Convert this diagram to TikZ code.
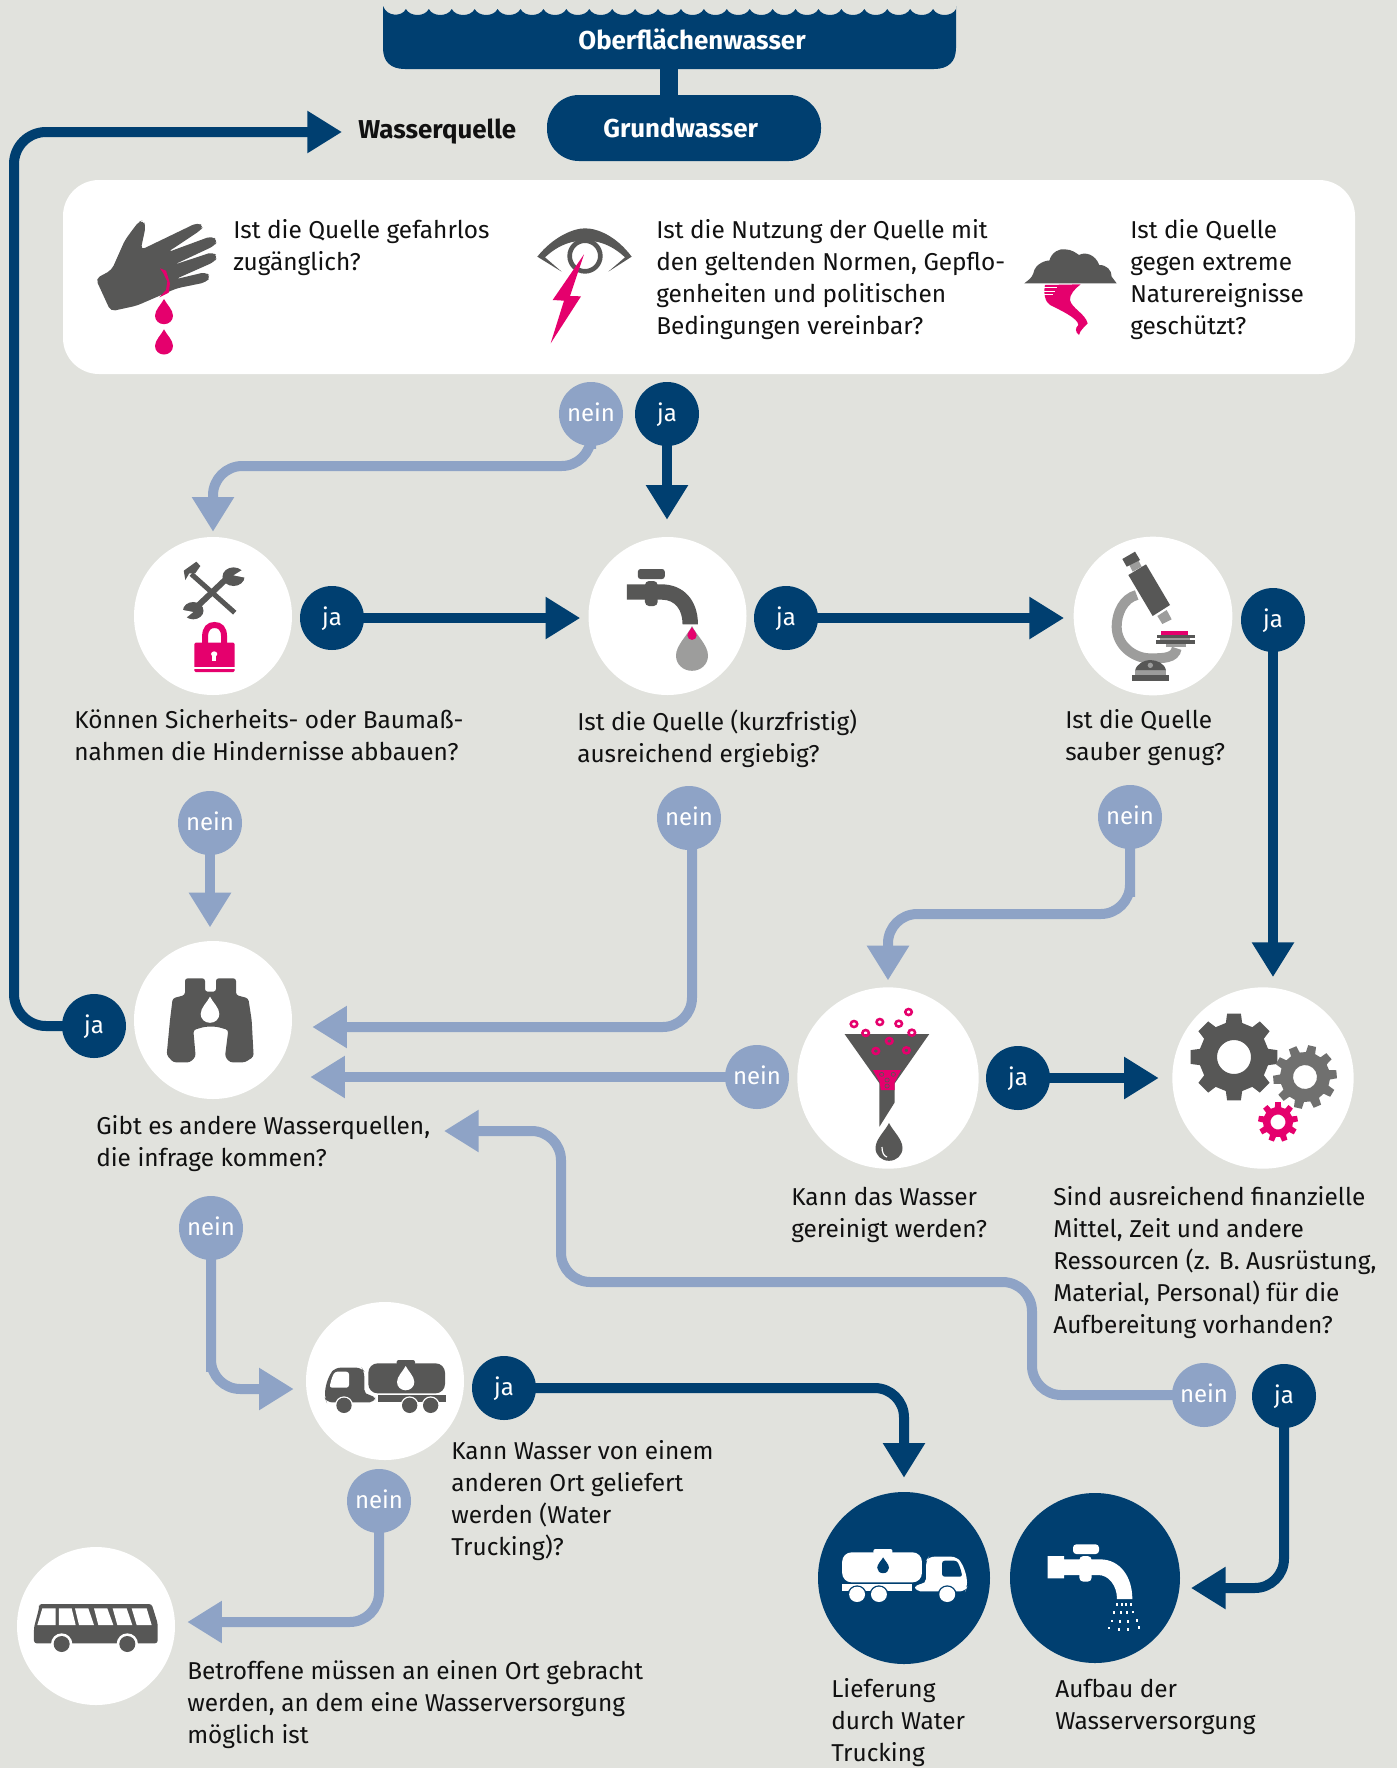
\documentclass[tikz,border=0pt]{standalone}
\usepackage{fontspec}
\setmainfont{Fira Sans}
\usetikzlibrary{arrows.meta}
\definecolor{bgc}{HTML}{E1E2DD}
\definecolor{navy}{HTML}{003F70}
\definecolor{lblue}{HTML}{8EA3C6}
\definecolor{pink}{HTML}{E5006D}
\definecolor{dgrey}{HTML}{575756}
\definecolor{mgrey}{HTML}{9D9D9C}
\definecolor{ink}{HTML}{111111}
\pgfdeclarelayer{bgl}
\pgfdeclarelayer{lines}
\pgfsetlayers{bgl,lines,main}
\tikzset{
  conn/.style={line width=7.5pt,rounded corners=22pt,-{Triangle[length=26pt,width=30pt]}},
  dk/.style={conn,draw=navy},
  lt/.style={conn,draw=lblue},
  jaa/.style={circle,fill=navy,text=white,minimum size=48pt,inner sep=0pt,text height=13pt,text depth=2pt,font=\fontsize{18}{20}\selectfont},
  nei/.style={circle,fill=lblue,text=white,minimum size=48pt,inner sep=0pt,text height=13pt,text depth=2pt,font=\fontsize{18}{20}\selectfont},
  wcirc/.style={circle,fill=white,inner sep=0pt},
  ncirc/.style={circle,fill=navy,inner sep=0pt},
  txt/.style={anchor=north west,inner sep=0pt,align=left,text=ink,font=\fontsize{18.3}{24}\selectfont,execute at begin node={\strut}},
  head/.style={inner sep=0pt,font=\bfseries\fontsize{19.4}{21}\selectfont}
}
\newcommand\waterdrop[4]{\begin{scope}[shift={(#1,#2)},scale=#3]
\fill[#4] (0,0) .. controls (.3,.6) and (1,1.2) .. (1,1.85) .. controls (1,2.4) and (.55,2.8) .. (0,2.8) .. controls (-.55,2.8) and (-1,2.4) .. (-1,1.85) .. controls (-1,1.2) and (-.3,.6) .. (0,0) -- cycle;
\end{scope}}
\newcommand\gearicon[8]{\begin{scope}[shift={(#1,#2)},rotate=#7]
\fill[#8,even odd rule] ({-.3*360/#6}:#4) \foreach \k in {0,...,\numexpr#6-1\relax}{ -- ({(\k-.3)*360/#6}:#4) -- ({(\k-.2)*360/#6}:#3) -- ({(\k+.2)*360/#6}:#3) -- ({(\k+.3)*360/#6}:#4)} -- cycle (0,0) circle[radius=#5];
\end{scope}}
\newcommand\truckicon[4]{%
\fill[#1,rounded corners=4pt] (105,203) -- (185,203) -- (193,215) -- (193,285) -- (225,285) -- (225,307) -- (80,307) -- (75,295) -- (75,265) -- (88,225) -- cycle;
\fill[#2,rounded corners=2pt] (104,215) -- (147,215) -- (147,263) -- (88,263) -- (95,235) -- cycle;
\fill[#1,rounded corners=7pt] (205,190) rectangle (435,280);
\fill[#1,rounded corners=1.5pt] (290,180) rectangle (345,195);
\fill[#1] (235,285) rectangle (437,307);
\foreach \wx in {132,329,392}{\fill[#2] (\wx,316) circle[radius=27];\fill[#1] (\wx,316) circle[radius=23];}
\waterdrop{317}{#4}{#3}{#2}}
\begin{document}
\begin{tikzpicture}[x=.75pt,y=-.75pt]
\useasboundingbox (0,0) rectangle (1397,1768);
\begin{pgfonlayer}{bgl}
\fill[bgc] (0,0) rectangle (1397,1768);
\fill[white,rounded corners=27pt] (63,180) rectangle (1355,374);
\fill[navy] (383,6) \foreach \i in {0,...,24}{ .. controls ({383+22.92*\i+4},17) and ({383+22.92*\i+19},17) .. ({383+22.92*(\i+1)},9)} -- (956,6) -- (956,48) .. controls (956,62) and (948,69) .. (934,69) -- (405,69) .. controls (391,69) and (383,62) .. (383,48) -- cycle;
\end{pgfonlayer}

% ---- nodes
\node[minimum width=430pt,minimum height=46pt,inner sep=0pt] (ow) at (668.5,38) {};
\node[head,text=white] (owt) at (692,39) {Oberflächenwasser};
\node[head,fill=navy,text=white,rounded corners=24pt,minimum width=205.5pt,minimum height=49.5pt,text width=205.5pt,align=center] (gw) at (684,128) {\hspace*{-5pt}Grundwasser};
\node[head,text=ink,anchor=west] (wq) at (358,132) {Wasserquelle};

\node[txt] (q1) at (233,219.5) {Ist die Quelle gefahrlos\\zugänglich?};
\node[txt] (q2) at (656,219.5) {Ist die Nutzung der Quelle mit\\den geltenden Normen, Gepflo-\\genheiten und politischen\\Bedingungen vereinbar?};
\node[txt] (q3) at (1130,219.5) {Ist die Quelle\\gegen extreme\\Naturereignisse\\geschützt?};

\node[nei] (n1) at (591,414) {nein};
\node[jaa] (j1) at (667,414) {ja};
\node[wcirc,minimum size=118.5pt] (safe) at (213,616) {};
\node[wcirc,minimum size=118.5pt] (tap) at (667.5,616) {};
\node[wcirc,minimum size=119pt] (micro) at (1153,616) {};
\node[jaa] (j2) at (332,618) {ja};
\node[jaa] (j3) at (786,618) {ja};
\node[jaa] (j4) at (1273,620) {ja};
\node[txt] (t1) at (74,709.5) {Können Sicherheits- oder Baumaß-\\nahmen die Hindernisse abbauen?};
\node[txt] (t2) at (577,709.5) {Ist die Quelle (kurzfristig)\\ausreichend ergiebig?};
\node[txt] (t3) at (1065,709.5) {Ist die Quelle\\sauber genug?};
\node[nei] (n2) at (210,823) {nein};
\node[nei] (n3) at (689,818) {nein};
\node[nei] (n4) at (1130,817) {nein};
\node[wcirc,minimum size=118.5pt] (bino) at (213,1020) {};
\node[jaa] (j5) at (94,1026) {ja};
\node[wcirc,minimum size=136pt] (filt) at (888,1078) {};
\node[wcirc,minimum size=136pt] (gear) at (1263,1078) {};
\node[nei] (n5) at (757,1077) {nein};
\node[jaa] (j6) at (1018,1078) {ja};
\node[txt] (t4) at (96,1115.5) {Gibt es andere Wasserquellen,\\die infrage kommen?};
\node[txt] (t5) at (791,1186.5) {Kann das Wasser\\gereinigt werden?};
\node[txt] (t6) at (1053,1186.5) {Sind ausreichend finanzielle\\Mittel, Zeit und andere\\Ressourcen (z. B. Ausrüstung,\\Material, Personal) für die\\Aufbereitung vorhanden?};
\node[nei] (n6) at (211,1228) {nein};
\node[wcirc,minimum size=118.5pt] (truck) at (385,1381) {};
\node[jaa] (j7) at (504,1388) {ja};
\node[nei] (n7) at (1204,1395) {nein};
\node[jaa] (j8) at (1284,1396) {ja};
\node[txt] (t7) at (451,1440.5) {Kann Wasser von einem\\anderen Ort geliefert\\werden (Water\\Trucking)?};
\node[nei] (n8) at (379,1501) {nein};
\node[wcirc,minimum size=118.5pt] (bus) at (96,1626) {};
\node[ncirc,minimum size=129pt] (nt) at (904,1578) {};
\node[ncirc,minimum size=127.5pt] (nw) at (1095,1578) {};
\node[txt] (t8) at (187,1660.5) {Betroffene müssen an einen Ort gebracht\\werden, an dem eine Wasserversorgung\\möglich ist};
\node[txt] (t9) at (831,1678.5) {Lieferung\\durch Water\\Trucking};
\node[txt] (t10) at (1055,1678.5) {Aufbau der\\Wasserversorgung};

% ---- free corner points
\coordinate (cq) at (14,600);
\coordinate (c1) at (1032,1282);
\coordinate (c2) at (561,1131);
\coordinate (e2) at (444,1131);
\coordinate (c3) at (1130,914);
\coordinate (c4) at (211,1389);
\coordinate (c5) at (379,1622);
\coordinate (c6) at (591,466);
\coordinate (c7) at (692,1027);
\coordinate (c9) at (1284,1588);

\begin{pgfonlayer}{lines}
\draw[draw=navy,line width=13.5pt] (ow.south) -- (ow.south |- gw.north);
\draw[dk,rounded corners=24pt,shorten >=12pt] (j5.center) -| (cq) |- (wq.west);
\draw[lt,shorten >=3.75pt] (n1.center) |- (c6) -| (safe.north);
\draw[dk,shorten >=12.75pt] (j1.center) -- (j1.center |- tap.north);
\draw[dk,shorten >=6pt] (j2.center) -- (j2.center -| tap.west);
\draw[dk,shorten >=7pt] (j3.center) -- (j3.center -| micro.west);
\draw[dk,shorten >=7.5pt] (j4.center) -- (j4.center |- gear.north);
\draw[lt,shorten >=10pt] (n2.center) -- (n2.center |- bino.north);
\draw[lt,shorten >=15pt] (n3.center -| c7) |- (bino.east |- c7);
\draw[lt,shorten >=5pt] (n4.center) |- (c3) -| (filt.north);
\draw[lt,shorten >=13.5pt] (n5.center) -- (n5.center -| bino.east);
\draw[dk,shorten >=10pt] (j6.center) -- (j6.center -| gear.west);
\draw[lt] (n7.center) -| (c1) -| (c2) -- (e2);
\draw[lt,shorten >=9pt] (n6.center) |- (c4) -- (c4 -| truck.west);
\draw[dk,shorten >=10.5pt] (j7.center) -| (nt.north);
\draw[lt,shorten >=9pt] (n8.center) |- (c5 -| bus.east);
\draw[dk,shorten >=8pt] (j8.center) |- (nw.east |- c9);
\end{pgfonlayer}

% ---- hand
\begin{scope}[shift={(80,200)},scale=1/3]
\fill[dgrey,rounded corners=3.5pt] (47,236) -- (95,210) -- (135,120) -- (175,66) -- (190,60) -- (197,80) -- (182,150) -- (352,68) -- (372,78) -- (360,92) -- (262,157) -- (395,108) -- (414,122) -- (402,138) -- (280,195) -- (398,156) -- (414,170) -- (402,186) -- (285,238) -- (378,216) -- (392,230) -- (378,247) -- (290,265) -- (170,317) -- (92,334) -- cycle;
\fill[pink] (240,205) -- (258,212) -- (270,250) -- (266,278) -- (238,292) -- (258,270) -- (262,245) -- (250,220) -- cycle;
\waterdrop{252}{297}{27}{pink}
\waterdrop{252}{388}{27}{pink}
\end{scope}
% ---- eye
\begin{scope}[shift={(510,200)},scale=1/3]
\fill[dgrey] (82,170) .. controls (130,110) and (190,85) .. (225,85) .. controls (265,85) and (320,110) .. (365,170) -- (295,215) -- (345,172) .. controls (300,130) and (260,122) .. (225,122) .. controls (190,122) and (150,130) .. (105,172) -- (155,215) -- cycle;
\draw[dgrey,line width=3.5pt] (225,168) circle[radius=46];
\fill[pink] (222,163) -- (128,300) -- (162,302) -- (122,430) -- (213,289) -- (180,288) -- cycle;
\end{scope}
% ---- cloud
\begin{scope}[shift={(1010,230)},scale=1/3]
\fill[dgrey] (43,160) .. controls (55,150) and (65,145) .. (70,130) .. controls (75,100) and (110,90) .. (118,92) .. controls (125,65) and (150,55) .. (165,58) .. controls (185,58) and (200,70) .. (207,75) .. controls (225,65) and (255,72) .. (268,105) .. controls (290,105) and (305,120) .. (305,140) .. controls (310,148) and (315,152) .. (320,160) -- cycle;
\fill[pink] (105,165) -- (212,163) .. controls (195,175) and (178,195) .. (180,210) .. controls (185,235) and (225,250) .. (233,280) .. controls (225,290) and (210,300) .. (207,315) .. controls (195,305) and (195,295) .. (205,285) .. controls (205,265) and (150,240) .. (120,225) .. controls (105,215) and (100,190) .. (105,165) -- cycle;
\foreach \sy/\sx in {172/140,183/135,194/128}{\draw[white,line width=.6pt] (100,\sy) -- (\sx,\sy);}
\end{scope}
% ---- tools, lock, tap
\begin{scope}[shift={(130,530)},xscale=1/2.53,yscale=1/3]
\draw[dgrey,line width=3.75pt] (155,132) -- (265,248);
\fill[dgrey] (136,122) -- (168,95) -- (178,108) -- (165,130) -- (150,130) -- (140,150) -- cycle;
\draw[dgrey,line width=4.5pt] (245,145) -- (165,235);
\fill[dgrey] (262,140) circle[radius=28];
\fill[white] (262,136) -- (300,108) -- (300,145) -- cycle;
\fill[dgrey] (160,242) circle[radius=26];
\fill[white] (160,246) -- (125,238) -- (130,275) -- cycle;
\draw[pink,line width=4.5pt] (190,340) -- (190,320) .. controls (190,295) and (200,285) .. (214,285) .. controls (228,285) and (238,295) .. (238,320) -- (238,340);
\fill[pink,rounded corners=1pt] (163,338) rectangle (265,426);
\fill[white] (163,411) rectangle (265,416);
\fill[white] (213,372) circle[radius=8];
\fill[white] (208,374) rectangle (218,392);
\fill[dgrey,rounded corners=2pt] (1285,117) rectangle (1353,147);
\fill[dgrey,rounded corners=3pt] (1303,153) rectangle (1335,228);
\fill[dgrey] (1257,163) -- (1345,163) .. controls (1400,163) and (1437,210) .. (1437,283) -- (1398,283) .. controls (1398,240) and (1380,209) .. (1345,209) -- (1257,209) -- cycle;
\end{scope}
\waterdrop{692}{626}{16}{mgrey}
\waterdrop{692}{627}{4.6}{pink}
% ---- microscope
\begin{scope}[shift={(1070,530)},scale=1/3]
\draw[mgrey,line width=7.5pt] (200,195) .. controls (160,205) and (140,250) .. (140,290) .. controls (140,345) and (190,385) .. (240,385) .. controls (280,385) and (315,385) .. (320,355);
\fill[mgrey] (262,258) -- (290,240) -- (305,268) -- (277,282) -- cycle;
\fill[mgrey] (178,105) -- (205,90) -- (215,110) -- (188,125) -- cycle;
\fill[dgrey] (175,135) -- (228,103) -- (300,225) -- (248,258) -- cycle;
\fill[dgrey] (157,87) -- (195,65) -- (210,90) -- (170,110) -- cycle;
\fill[mgrey] (288,342) rectangle (348,352);
\fill[mgrey] (270,325) rectangle (360,331);
\fill[dgrey] (262,314) rectangle (375,325);
\fill[dgrey] (258,331) rectangle (375,342);
\fill[pink] (273,303) rectangle (354,316);
\fill[dgrey] (195,422) .. controls (200,400) and (225,390) .. (240,390) .. controls (260,390) and (285,400) .. (288,422) -- cycle;
\fill[mgrey] (195,422) rectangle (288,435);
\fill[dgrey] (185,436) rectangle (298,454);
\fill[mgrey] (241,406) circle[radius=8];
\end{scope}
% ---- binoculars
\begin{scope}[shift={(130,940)},scale=1/3]
\fill[dgrey,rounded corners=2pt] (165,115) -- (225,115) -- (225,155) -- (258,155) -- (258,115) -- (318,115) -- (318,165) -- (355,175) -- (365,240) -- (371,350) -- (345,367) -- (300,367) -- (285,350) -- (295,270) -- (260,260) -- (225,260) -- (190,270) -- (197,350) -- (180,367) -- (130,367) -- (110,345) -- (120,240) -- (128,175) -- (165,165) -- cycle;
\waterdrop{240}{170}{28}{white}
\end{scope}
% ---- funnel
\begin{scope}[shift={(790,985)},xscale=1/2.75,yscale=1/3]
\fill[dgrey] (150,147) -- (383,147) -- (288,295) -- (288,352) -- (246,425) -- (246,295) -- cycle;
\fill[pink] (228,255) -- (305,255) -- (288,292) -- (288,315) -- (250,315) -- (246,290) -- cycle;
\foreach \px/\py in {176/117,208/144,247/111,299/116,326/81,335/143,273/168,236/198,320/196}{\draw[pink,line width=1.9pt] (\px,\py) circle[radius=9];}
\foreach \px/\py in {252/268,284/268,267/285,267/303}{\draw[dgrey,line width=.5pt] (\px,\py) circle[radius=6];}
\end{scope}
\waterdrop{889}{1123}{13.5}{dgrey}
\draw[white,line width=.9pt] (882,1147) .. controls (882,1153) and (884,1156) .. (887,1157);
% ---- gears
\gearicon{1234}{1057}{44}{35}{17}{8}{90}{dgrey}
\gearicon{1305}{1077}{32}{25}{12}{10}{5}{dgrey!85!white}
\gearicon{1278}{1122}{20}{15}{7.5}{9}{10}{pink}
% ---- trucks
\begin{scope}[shift={(300,1300)},scale=1/3]
\truckicon{dgrey}{white}{26}{198}
\end{scope}
\begin{scope}[shift={(993,1489)},xscale=-.3467,yscale=1/3]
\truckicon{white}{navy}{17}{205}
\end{scope}
% ---- navy tap
\begin{scope}[shift={(810,1490)},scale=1/3]
\fill[white,rounded corners=2.5pt] (789,163) rectangle (867,192);
\fill[white,rounded corners=3pt] (808,198) rectangle (845,275);
\fill[white] (713,198) -- (762,198) -- (762,208) -- (870,208) .. controls (930,208) and (967,260) .. (967,327) -- (921,327) .. controls (921,285) and (895,255) .. (865,255) -- (762,255) -- (762,265) -- (713,265) -- cycle;
\foreach \px/\py in {921/343,935/344,949/344,963/343,913/367,932/368,952/368,970/366,907/393,930/394,954/394,980/391,897/414,926/418,955/418,988/412}{\fill[white] (\px-3,\py-4) rectangle (\px+3,\py+4);}
\end{scope}
% ---- bus
\begin{scope}[shift={(10,1540)},scale=1/3]
\fill[dgrey,rounded corners=2pt] (87,192) -- (425,192) -- (443,250) -- (443,310) -- (72,310) -- (72,262) -- (87,205) -- cycle;
\foreach \wa/\wb/\wc/\wd in {97/137/137/82,147/185/197/147,195/235/252/207,252/292/310/265,308/350/367/322,365/410/425/380}{\fill[white] (\wa,205) -- (\wb,205) -- (\wc,255) -- (\wd,255) -- cycle;}
\foreach \wx in {155,352}{\fill[white] (\wx,312) circle[radius=32];\fill[dgrey] (\wx,312) circle[radius=24];}
\end{scope}
\end{tikzpicture}
\end{document}
